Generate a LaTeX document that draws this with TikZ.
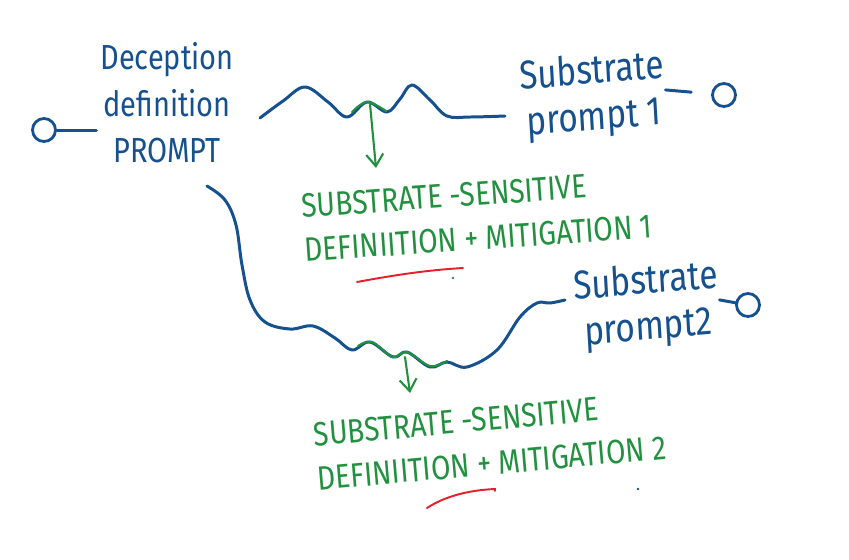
\documentclass[tikz,border=0pt]{standalone}
\usepackage{fontspec}
\setmainfont{Fira Sans}
\usepackage{tikz}
\usetikzlibrary{arrows.meta,positioning}
\definecolor{inkblue}{HTML}{15508F}
\definecolor{inkgreen}{HTML}{22913F}
\definecolor{inkred}{HTML}{E5202B}

\begin{document}
\begin{tikzpicture}[
  x=0.02cm, y=-0.02cm,
  blueword/.style={text=inkblue, font=\fontsize{16.5}{22}\selectfont,
    align=center, inner sep=0pt, yscale=1.2},
  subword/.style={blueword, font=\fontsize{19}{22}\selectfont, rotate=4},
  greenword/.style={text=inkgreen, font=\fontsize{16}{21}\selectfont,
    align=left, inner sep=0pt, rotate=4, yscale=1.2},
  port/.style={circle, draw=inkblue, line width=1.6pt, inner sep=0pt,
    minimum size=0.46cm},
  wire/.style={draw=inkblue, line width=1.7pt, line cap=round, line join=round},
  gwire/.style={draw=inkgreen, line width=1.2pt, line cap=round},
  garrow/.style={gwire, -{Straight Barb[length=2.4mm,width=3.4mm]}},
  redmark/.style={draw=inkred, line width=1.1pt, line cap=round},
  speck/.style={circle, inner sep=0pt, minimum size=1.6pt}
]
  \useasboundingbox (0,0) rectangle (849,559);

  % Prompt de partida
  \node[port] (start) at (44,130) {};
  \node[blueword] (deception) at (167,103) {Deception\\definition\\PROMPT};
  \draw[wire] (start) -- ([xshift=-2pt]deception.west |- start);

  % Substrato 1 e 2
  \node[subword] (sub1) at (593,96) {Substrate\\prompt 1};
  \node[port] (end1) at (724,95) {};
  \draw[wire, shorten >=0.4cm] (sub1.east) -- (end1);

  \node[subword] (sub2) at (647,306) {Substrate\\prompt2};
  \node[port] (end2) at (748,305) {};
  \draw[wire] (sub2.east) -- (end2);

  % Pontas das curvas
  \coordinate (w1a) at (260,118);
  \coordinate (w1b) at (505,116);
  \coordinate (w2a) at (207,186);
  \coordinate (w2b) at (565,300);

  % Curva 1 (por cima)
  \draw[wire] plot[smooth, tension=0.6] coordinates {(w1a) (283,101)
    (305,87) (328,102) (347,117) (367,102) (387,112) (400,99) (412,85)
    (430,100) (447,116) (470,117) (w1b)};
  \draw[gwire] plot[smooth, tension=0.6] coordinates {(352,112) (367,102)
    (386,111)};

  % Curva 2 (por baixo)
  \draw[wire] plot[smooth, tension=0.6] coordinates {(w2a) (225,200)
    (236,225) (242,265) (250,300) (265,322) (290,329) (313,326) (335,338)
    (352,350) (370,342) (393,357) (407,352) (430,367) (447,362) (467,367)
    (497,350) (520,317) (537,303) (550,303) (w2b)};
  \draw[gwire] plot[smooth, tension=0.6] coordinates {(358,346) (372,342)
    (393,357) (407,352) (430,366) (447,361)};

  % Mitigacoes
  \node[greenword] (mit1) at (477,216)
    {SUBSTRATE -SENSITIVE\\DEFINIITION + MITIGATION 1};
  \node[greenword, rotate=1] (mit2) at (490,441)
    {SUBSTRATE -SENSITIVE\\DEFINIITION + MITIGATION 2};

  \coordinate (dip1) at (370,104);
  \coordinate (tip1) at (376,168);
  \draw[garrow] (dip1) -- (tip1);
  \coordinate (dip2) at (405,357);
  \coordinate (tip2) at (410,393);
  \draw[garrow] (dip2) -- (tip2);

  % Sublinhados vermelhos
  \draw[redmark] (357,282) .. controls (400,274) and (430,270) .. (463,268);
  \draw[redmark] (427,508) .. controls (445,496) and (470,490) .. (495,489)
    -- (495,491);

  % pontinhos
  \node[speck, fill=inkgreen] (dot1) at (453,278) {};
  \node[speck, fill=inkblue] (dot2) at (638,489) {};
\end{tikzpicture}
\end{document}
